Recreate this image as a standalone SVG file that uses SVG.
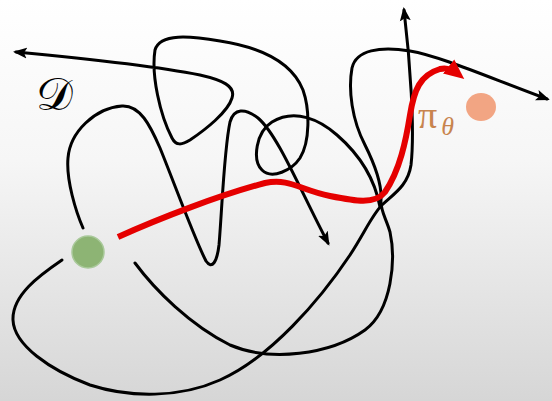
<svg xmlns="http://www.w3.org/2000/svg" width="552" height="401" viewBox="0 0 552 401">
<defs>
<linearGradient id="bg" x1="0" y1="0" x2="0" y2="1">
<stop offset="0" stop-color="#ffffff"/>
<stop offset="0.4" stop-color="#f6f6f6"/>
<stop offset="1" stop-color="#d6d6d6"/>
</linearGradient>
<marker id="ah" markerUnits="userSpaceOnUse" markerWidth="14" markerHeight="12" refX="11" refY="6" orient="auto">
<path d="M0,0.5 L14,6 L0,11.5 L3,6 z" fill="#000"/>
</marker>
<marker id="rh" markerUnits="userSpaceOnUse" markerWidth="20" markerHeight="20" refX="12" refY="10" orient="auto">
<path d="M0,1 L20,10 L0,19 z" fill="#e50000"/>
</marker>
<style>
.traj{fill:none;stroke:#000;stroke-width:3;stroke-linecap:round}
.arr{marker-end:url(#ah)}
.policy{fill:none;stroke:#e50000;stroke-width:6;stroke-linecap:butt;marker-end:url(#rh)}
.lbl{font-family:"Liberation Serif","DejaVu Serif",serif;fill:#c8844e}
</style>
</defs>
<rect width="552" height="401" fill="url(#bg)"/>
<g id="connectors">
<path class="traj arr" d="M83,228 C76,212 66,180 68,158 C70,132 95,108 122,106 C140,105 150,125 160,148 C175,185 195,240 206,261 C212,270 217,262 219,245 C222,210 224,150 230,122 C234,108 245,108 258,118 C278,135 300,190 328,243"/>
<path class="traj arr" d="M380,207 C375,180 360,155 337,135 C320,120 295,108 272,122 C256,132 252,160 262,170 C272,180 292,170 300,158 C310,142 310,110 303,90 C293,65 265,48 220,41 C190,36 160,33 155,50 C151,75 160,115 172,138 C176,146 182,145 190,140 C205,130 228,112 232,98 C236,86 222,80 200,75 C160,67 80,58 16,52"/>
<path class="traj arr" d="M62,260 C40,275 12,295 13,320 C14,345 50,370 90,385 C130,398 180,398 220,380 C270,358 320,300 350,255 C365,232 372,215 382,205 C395,193 408,185 411,165 C415,130 410,60 404,10"/>
<path class="traj arr" d="M135,263 C155,290 190,325 230,345 C270,362 330,355 365,330 C392,310 396,260 390,232 C386,218 380,210 381,200 C382,185 375,165 365,145 C352,120 348,90 352,68 C356,50 380,46 410,51 C440,56 490,78 547,99"/>
<path class="policy" d="M118,237 C160,218 220,195 265,183 C290,178 300,190 330,196 C355,201 375,205 385,192 C400,170 406,140 410,115 C414,90 420,75 440,69 C448,67 453,70 458,74"/>
</g>
<g id="start"><circle cx="88" cy="252" r="16" fill="#8db474" stroke="#a9c99a" stroke-width="1.5"/></g>
<g id="goal"><ellipse cx="481" cy="107" rx="15" ry="14" fill="#f2a583"/></g>
<g id="label-D"><text x="36" y="110" font-family="DejaVu Serif, Liberation Serif, serif" font-size="46" fill="#000">𝒟</text></g>
<g id="label-pi"><text class="lbl" x="418" y="128" font-size="38">π<tspan font-style="italic" font-size="26" dx="4" dy="7">θ</tspan></text></g>
</svg>
